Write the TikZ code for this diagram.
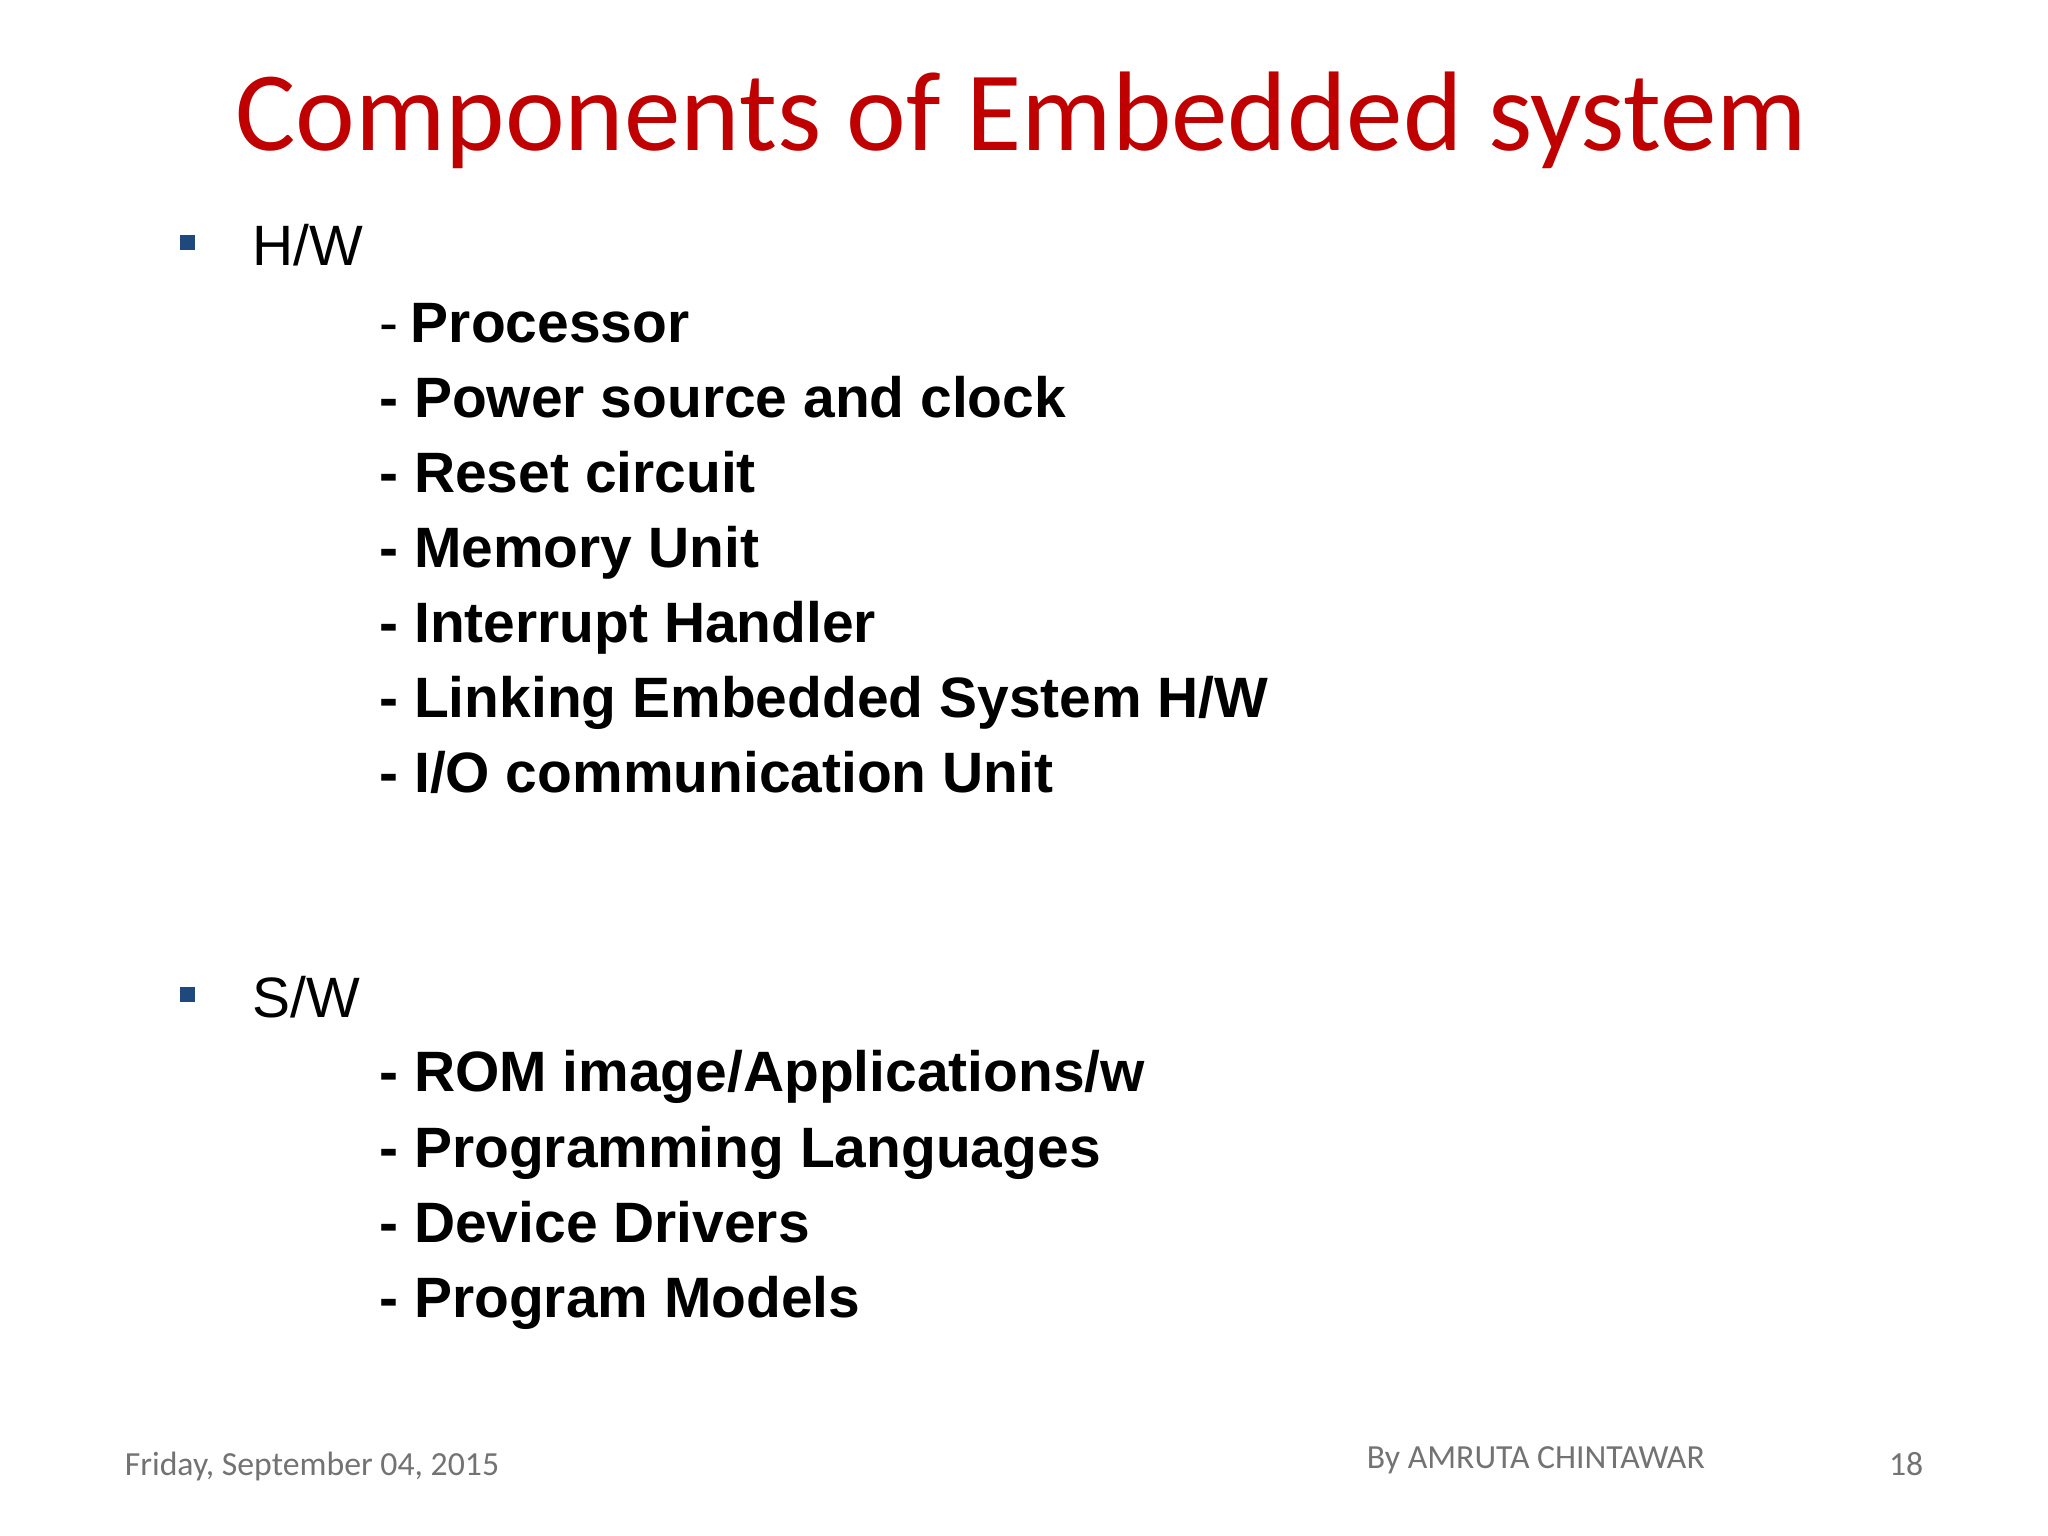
\documentclass[tikz,border=0pt]{standalone}
\usepackage{fontspec}
\setmainfont{Liberation Sans}
\newfontfamily\calib{Carlito}
\begin{document}
\begin{tikzpicture}[x=0.01306cm,y=-0.01306cm,
  item/.style={anchor=base west,inner sep=0,font=\fontsize{16.2}{20}\selectfont\bfseries},
  head/.style={anchor=base west,inner sep=0,font=\fontsize{16.2}{20}\selectfont},
  foot/.style={inner sep=0,text=black!55,font=\calib\fontsize{9.6}{11}\selectfont},
  bul/.style={minimum size=0.15cm,inner sep=0}]
\useasboundingbox[fill=white] (0,0) rectangle (1568,1176);
\node[anchor=base,inner sep=0,text={rgb,255:red,192;green,0;blue,0},font=\calib\fontsize{32.2}{36}\selectfont] (title) at (782,115) {Components of Embedded system};
\node[bul,fill={rgb,255:red,31;green,73;blue,125}] (b1) at (143.5,185.5) {};
\node[head] (hw) at (193,203) {H/W};
\node[item] (i1) at (290,262) {\mdseries -\hspace{0.22em}\bfseries Processor};
\node[item] (i2) at (290,319.5) {- Power source and clock};
\node[item] (i3) at (290,377) {- Reset circuit};
\node[item] (i4) at (290,434.5) {- Memory Unit};
\node[item] (i5) at (290,492) {- Interrupt Handler};
\node[item] (i6) at (290,549.5) {- Linking Embedded System H/W};
\node[item] (i7) at (290,607) {- I/O communication Unit};
\node[bul,fill={rgb,255:red,31;green,73;blue,125}] (b2) at (143.5,761.5) {};
\node[head] (sw) at (193,779) {S/W};
\node[item] (s1) at (290,836) {- ROM image/Applications/w};
\node[item] (s2) at (290,893.5) {- Programming Languages};
\node[item] (s3) at (290,951) {- Device Drivers};
\node[item] (s4) at (290,1008.5) {- Program Models};
\node[foot,anchor=base west] (d) at (95,1130) {Friday, September 04, 2015};
\node[foot,anchor=base west] (a) at (1046,1124) {By AMRUTA CHINTAWAR};
\node[foot,anchor=base east] (n) at (1473,1130) {18};
\end{tikzpicture}
\end{document}
